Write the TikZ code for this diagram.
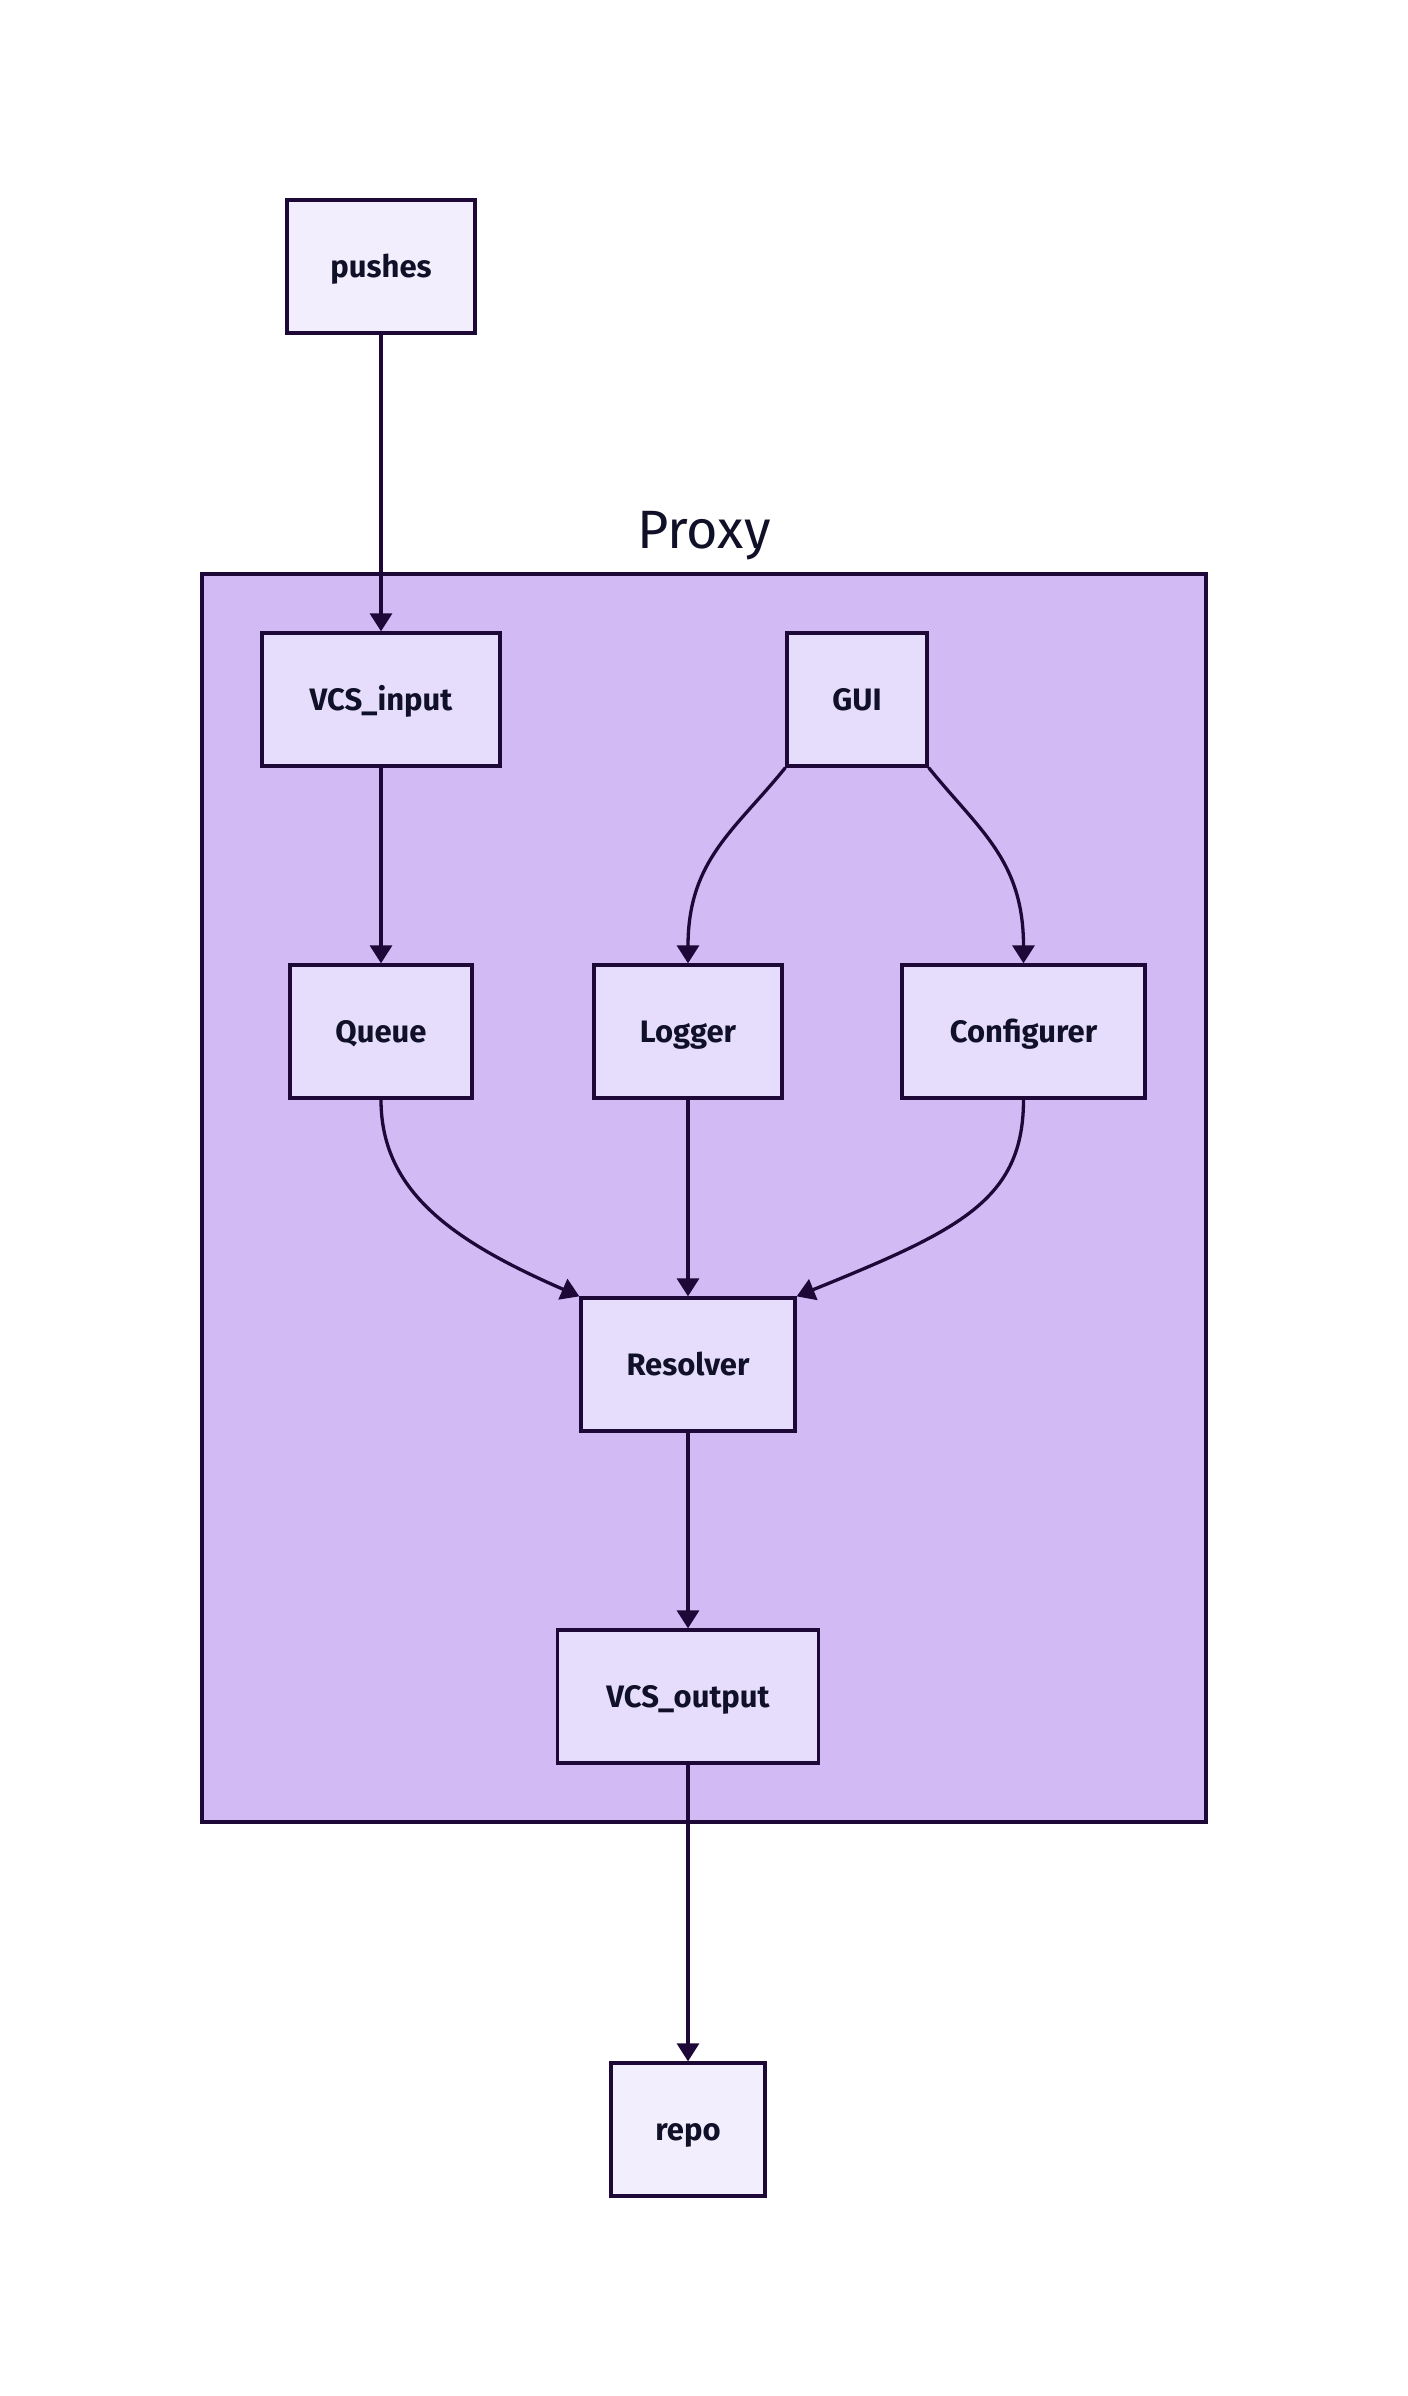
\documentclass[tikz,border=0pt]{standalone}
\usepackage{fontspec}
\setmainfont{Fira Sans}
\usetikzlibrary{arrows.meta}
\definecolor{edgec}{RGB}{30,8,55}
\definecolor{proxyfill}{RGB}{210,186,244}
\definecolor{innerfill}{RGB}{230,221,253}
\definecolor{outerfill}{RGB}{242,238,254}
\definecolor{textc}{RGB}{16,16,40}
\tikzset{
  box/.style={draw=edgec, line width=3.3pt, rectangle, inner sep=0pt,
    minimum height=133pt, text height=24.8pt, text depth=3.4pt, text=textc,
    font=\fontsize{31}{36}\selectfont\bfseries},
  inbox/.style={box, fill=innerfill},
  outbox/.style={box, fill=outerfill},
  conn/.style={draw=edgec, line width=3.3pt, -{Triangle[width=22pt,length=18pt]}},
}
\begin{document}
\begin{tikzpicture}[x=1pt,y=-1pt]
\useasboundingbox (0,0) rectangle (1408,2396);
% cluster
\draw[draw=edgec, fill=proxyfill, line width=3.3pt] (202,574) rectangle (1206,1822);
\node[anchor=base, text=textc, font=\fontsize{54}{60}\selectfont] (proxylabel) at (704,548) {Proxy};
% nodes
\node[outbox, minimum width=188pt] (push) at (381,266.5) {pushes};
\node[inbox, minimum width=238pt] (vin) at (381,699.5) {VCS\_input};
\node[inbox, minimum width=140pt] (gui) at (857,699.5) {GUI};
\node[inbox, minimum width=182pt] (queue) at (381,1031.5) {Queue};
\node[inbox, minimum width=188pt] (logger) at (688,1031.5) {Logger};
\node[inbox, minimum width=243pt] (conf) at (1023.5,1031.5) {Configurer};
\node[inbox, minimum width=214pt] (res) at (688,1364.5) {Resolver};
\node[inbox, minimum width=261pt] (vout) at (688,1696.5) {VCS\_output};
\node[outbox, minimum width=154pt] (repo) at (688,2129.5) {repo};
% edges
\draw[conn] (push) -- (vin);
\draw[conn] (vin) -- (queue);
\draw[conn] (gui.south west) .. controls (735,830) and (688,860) .. (logger.north);
\draw[conn] (gui.south east) .. controls (979,830) and (1023.5,860) .. (conf.north);
\draw[conn] (queue.south) .. controls (381,1190) and (450,1240) .. (res.north west);
\draw[conn] (logger) -- (res);
\draw[conn] (conf.south) .. controls (1023.5,1200) and (960,1230) .. (res.north east);
\draw[conn] (res) -- (vout);
\draw[conn] (vout) -- (repo);
\end{tikzpicture}
\end{document}
